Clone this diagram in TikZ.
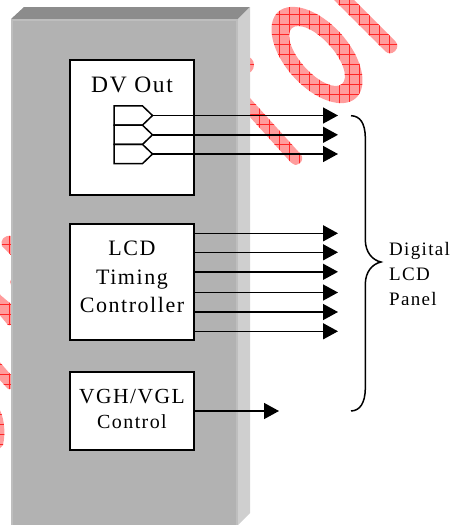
\documentclass[tikz,border=0pt]{standalone}
\usepackage{fontspec}
\usetikzlibrary{arrows.meta}
\setmainfont[LetterSpace=7]{Liberation Serif}
\definecolor{panelfront}{HTML}{B2B2B2}
\definecolor{paneledge}{HTML}{BEBEBE}
\definecolor{paneltop}{HTML}{8C8C8C}
\definecolor{panelside}{HTML}{CFCFCF}
\definecolor{stampfill}{HTML}{FF9C9C}
\tikzset{
    blockbox/.style={draw=black, fill=white, line width=1.5pt, minimum width=124pt, inner sep=0pt},
    blocktext/.style={inner sep=0pt, align=center, font=\fontsize{22}{28.3}\selectfont},
    sidetext/.style={inner sep=0pt, align=left, font=\fontsize{19}{25}\selectfont},
    sigarrow/.style={draw=black, line width=1.5pt, -{Triangle[length=15pt, width=16pt]}},
    drvline/.style={draw=black, line width=1.5pt, line join=miter}
}
% 透かしの輪郭
\newcommand{\stamppath}{
    (317,55) circle [x radius=58pt, y radius=32pt, rotate=-48]
    (317,56) circle [x radius=37.5pt, y radius=16.5pt, rotate=-48]
    [rounded corners=6.5pt] (335,-19) -- (400,46) -- (390,56) -- (325,-9) -- cycle
    (240,87) -- (305,159) -- (295,167) -- (230,95) -- cycle
    [rounded corners=0pt]
    (245,65) circle (9pt)
    (14,282) circle (4pt)
    (11,236) .. controls (4,235) and (0,240) .. (2,246) -- (11,255) -- cycle
    (-2,293) -- (11,304) -- (11,325) -- (8,325) -- (-2,313) -- cycle
    (-2,360) -- (11,375) -- (11,389) -- (8,389) -- (-2,378) -- cycle
    (-2,407) .. controls (4,415) and (6,432) .. (3,445) -- (-2,450) -- cycle
}

\begin{document}
\begin{tikzpicture}[x=1pt, y=-1pt]
    \useasboundingbox (0,0) rectangle (453,525);
    % 透かし（赤い格子）
    \fill[stampfill, even odd rule] \stamppath;
    \begin{scope}[even odd rule]
        \clip \stamppath;
        \foreach \x in {9,19,...,449} {
            \draw[red!85!white, line width=0.5pt] (\x,-20) -- (\x,525);
        }
        \foreach \y in {4,14,...,524} {
            \draw[red!85!white, line width=0.5pt] (-5,\y) -- (453,\y);
        }
    \end{scope}
    % 筐体
    \fill[paneltop] (11,19) -- (24,7) -- (250,7) -- (238,19) -- cycle;
    \fill[panelside] (238,19) -- (250,7) -- (250,513) -- (238,525) -- cycle;
    \fill[panelfront] (11,19) rectangle (238,525);
    \draw[paneledge, line width=2pt] (12,525) -- (12,20) -- (237,20) -- (237,525);
    % ブロック
    \node[blockbox, minimum height=135pt] (dvbox) at (132,127.5) {};
    \node[blockbox, minimum height=116pt] (lcdbox) at (132,282) {};
    \node[blockbox, minimum height=78pt] (vghbox) at (132,411) {};
    \node[blocktext, font=\fontsize{23.5}{28.3}\selectfont] (dvtext) at (132,85) {DV Out};
    \node[blocktext] (lcdtext) at (132,277) {LCD\\Timing\\Controller};
    \node[blocktext, font=\fontsize{20}{25}\selectfont] (vghtext) at (132,408.5) {{\fontsize{21.5}{25}\selectfont VGH/VGL}\\Control};
    % DV出力の矢印
    \foreach \i/\y in {1/115.5,2/134.8,3/154} {
        \draw[drvline] (114,\y-9.6) -- (142.5,\y-9.6) -- (152.5,\y) -- (142.5,\y+9.6) -- (114,\y+9.6) -- cycle;
        \coordinate (dvtip\i) at (152.5,\y);
        \coordinate (dvend\i) at (338,\y);
        \draw[sigarrow] (dvtip\i) -- (dvend\i);
    }
    % LCDタイミングの矢印
    \foreach \i/\y in {1/233.3,2/252.3,3/271.8,4/292.5,5/312,6/331.3} {
        \coordinate (lcdend\i) at (338,\y);
        \draw[sigarrow] (lcdbox.east |- lcdend\i) -- (lcdend\i);
    }
    % VGH/VGLの矢印
    \coordinate (vghend) at (279,411);
    \draw[sigarrow] (vghbox.east) -- (vghend);
    % 括弧
    \coordinate (bracetop) at (351,115.7);
    \coordinate (bracetip) at (381,262);
    \coordinate (bracebot) at (351,411);
    \draw[black, line width=1.5pt] (bracetop) .. controls (360,116) and (365,123) .. (365.3,137)
        -- (365.3,240) .. controls (365.5,252) and (372,260) .. (bracetip)
        .. controls (372,264) and (365.5,272) .. (365.3,284)
        -- (365.3,389) .. controls (365,403) and (360,410.7) .. (bracebot);
    % パネルの文字（下端が切れている）
    \begin{scope}
        \clip (385,230) rectangle (453,304);
        \node[sidetext, anchor=north west] (paneltext) at (389,242) {Digital\\LCD\\Panel};
    \end{scope}
\end{tikzpicture}
\end{document}
